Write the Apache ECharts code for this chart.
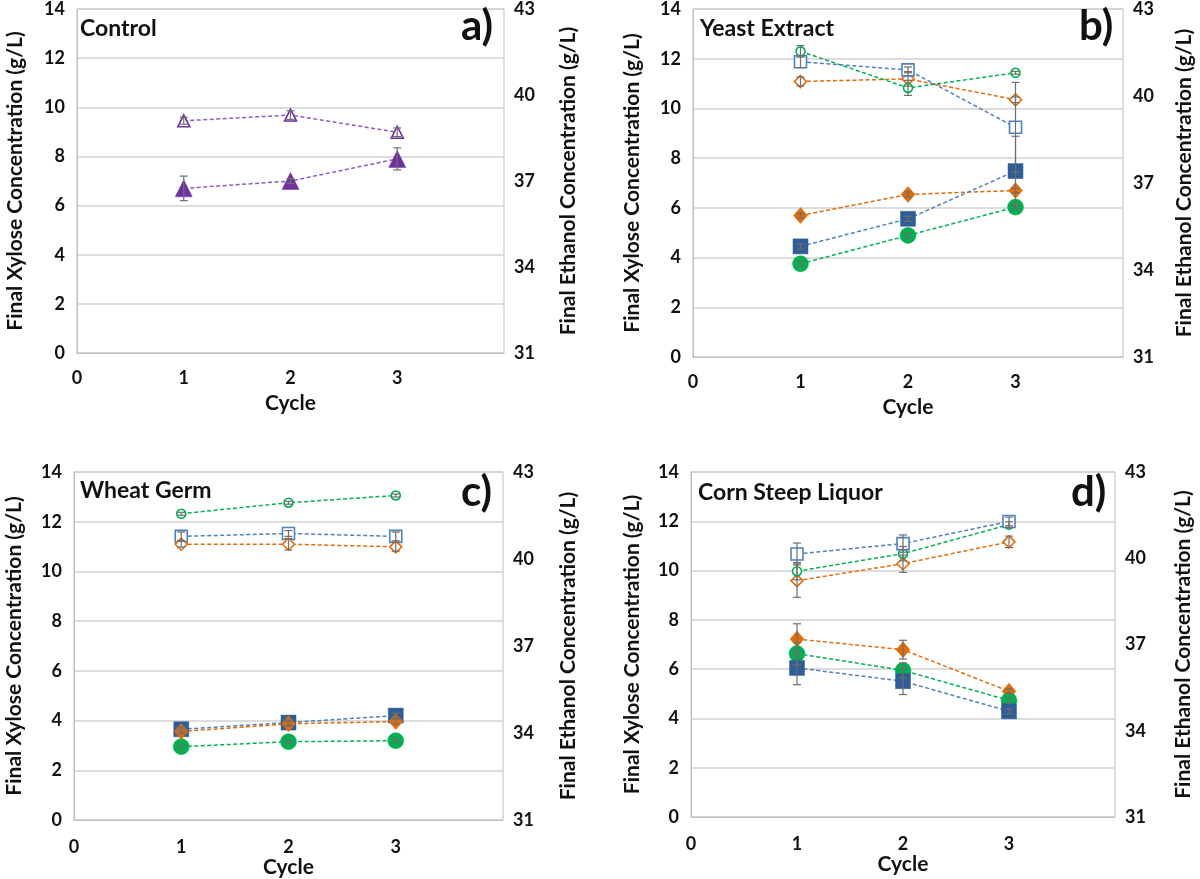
<!DOCTYPE html>
<html><head><meta charset="utf-8">
<script src="https://cdn.jsdelivr.net/npm/echarts@6/dist/echarts.min.js"></script>
<style>html,body{margin:0;padding:0;background:#fff}#c{width:1200px;height:879px}</style>
</head><body><div id="c"></div>
<script>
// ---------- DATA ----------
const cycles = [1, 2, 3];
const xTickLabels = ['0', '1', '2', '3'];
const panelTitles = ['Control', 'Yeast Extract', 'Wheat Germ', 'Corn Steep Liquor'];
const panelLetters = ['a)', 'b)', 'c)', 'd)'];
const leftAxisName = 'Final Xylose Concentration (g/L)';
const rightAxisName = 'Final Ethanol Concentration (g/L)';
const xAxisName = 'Cycle';

// a) Control (purple triangles)
const ctrlXylose = [6.7, 7.0, 7.9];
const ctrlXyloseErr = [0.5, 0.1, 0.45];
const ctrlEthanol = [39.1, 39.3, 38.7];
const ctrlEthanolErr = [0.12, 0.15, 0.15];

// b) Yeast Extract
const yeXyloseBlue = [4.45, 5.56, 7.48];
const yeXyloseBlueErr = [0.1, 0.1, 1.4];
const yeXyloseOrange = [5.69, 6.54, 6.70];
const yeXyloseOrangeErr = [0.1, 0.1, 0.1];
const yeXyloseGreen = [3.75, 4.89, 6.03];
const yeXyloseGreenErr = [0.1, 0.1, 0.1];
const yeEthanolBlue = [41.18, 40.90, 38.92];
const yeEthanolBlueErr = [0.2, 0.1, 1.55];
const yeEthanolOrange = [40.50, 40.59, 39.87];
const yeEthanolOrangeErr = [0.15, 0.25, 0.1];
const yeEthanolGreen = [41.54, 40.28, 40.80];
const yeEthanolGreenErr = [0.2, 0.26, 0.05];

// c) Wheat Germ
const wgXyloseBlue = [3.65, 3.92, 4.20];
const wgXyloseBlueErr = [0.1, 0.1, 0.1];
const wgXyloseOrange = [3.56, 3.87, 3.96];
const wgXyloseOrangeErr = [0.1, 0.1, 0.1];
const wgXyloseGreen = [2.95, 3.15, 3.19];
const wgXyloseGreenErr = [0.05, 0.05, 0.05];
const wgEthanolBlue = [40.78, 40.88, 40.78];
const wgEthanolBlueErr = [0.15, 0.1, 0.15];
const wgEthanolOrange = [40.51, 40.51, 40.42];
const wgEthanolOrangeErr = [0.1, 0.2, 0.15];
const wgEthanolGreen = [41.56, 41.94, 42.19];
const wgEthanolGreenErr = [0.05, 0.05, 0.05];

// d) Corn Steep Liquor
const cslXyloseBlue = [6.05, 5.51, 4.29];
const cslXyloseBlueErr = [0.68, 0.54, 0.1];
const cslXyloseOrange = [7.22, 6.79, 5.10];
const cslXyloseOrangeErr = [0.62, 0.38, 0.1];
const cslXyloseGreen = [6.63, 5.95, 4.73];
const cslXyloseGreenErr = [0.45, 0.3, 0.1];
const cslEthanolBlue = [40.15, 40.51, 41.28];
const cslEthanolBlueErr = [0.38, 0.3, 0.15];
const cslEthanolOrange = [39.22, 39.81, 40.57];
const cslEthanolOrangeErr = [0.58, 0.3, 0.2];
const cslEthanolGreen = [39.55, 40.16, 41.17];
const cslEthanolGreenErr = [0.3, 0.25, 0.1];

// ---------- STYLE ----------
const FONT = 'Lato, "Open Sans", sans-serif';
const C = {
  purple: '#7030A0', purpleLine: '#8E5CC0',
  blue: '#2F5D97', blueLight: '#4F81BD',
  orange: '#E36C0A', green: '#00B050'
};
const grids = [
  {left: 77, top: 9, width: 427, height: 344},
  {left: 693, top: 8, width: 430, height: 349},
  {left: 74, top: 472, width: 429, height: 348},
  {left: 691, top: 472, width: 424, height: 345}
];
const leftNameGap = [51, 50, 49, 48];
const rightNameGap = [54, 51, 55, 58];
const xLabelMargin = [16, 16, 18, 18];
const xNameGap = [40, 40, 34, 34];

const pairs = d => cycles.map((c, i) => [c, d[i]]);
const errPairs = (d, e) => cycles.map((c, i) => [c, d[i], e[i]]);

const option = {
  animation: false,
  textStyle: {fontFamily: FONT},
  grid: grids.map(g => Object.assign({show: true, borderColor: '#BFBFBF', borderWidth: 1, containLabel: false}, g)),
  xAxis: grids.map((g, i) => ({
    type: 'value', gridIndex: i, min: 0, max: 4, interval: 1,
    name: xAxisName, nameLocation: 'middle', nameGap: xNameGap[i],
    nameTextStyle: {fontSize: 21, fontWeight: 'bold', color: '#111', fontFamily: FONT},
    axisLine: {show: true, lineStyle: {color: '#BFBFBF', width: 1}},
    axisTick: {show: false},
    splitLine: {show: false},
    axisLabel: {fontSize: 18, fontWeight: 'bold', color: '#111', margin: xLabelMargin[i], fontFamily: FONT,
      formatter: v => (v < xTickLabels.length ? xTickLabels[v] : '')}
  })),
  yAxis: [].concat(...grids.map((g, i) => [
    {
      type: 'value', gridIndex: i, min: 0, max: 14, interval: 2, position: 'left',
      name: leftAxisName, nameLocation: 'middle', nameGap: leftNameGap[i],
      nameTextStyle: {fontSize: 21, fontWeight: 'bold', color: '#111', fontFamily: FONT},
      axisLine: {show: true, lineStyle: {color: '#BFBFBF'}}, axisTick: {show: false},
      splitLine: {show: true, lineStyle: {color: '#D0D0D0', width: 1.5}},
      axisLabel: {fontSize: 18, fontWeight: 'bold', color: '#111', margin: 12, fontFamily: FONT}
    },
    {
      type: 'value', gridIndex: i, min: 31, max: 43, interval: 3, position: 'right',
      name: rightAxisName, nameLocation: 'middle', nameGap: rightNameGap[i], nameRotate: 90,
      nameTextStyle: {fontSize: 21, fontWeight: 'bold', color: '#111', fontFamily: FONT},
      axisLine: {show: false}, axisTick: {show: false}, splitLine: {show: false},
      axisLabel: {fontSize: 18, fontWeight: 'bold', color: '#111', margin: 10, fontFamily: FONT}
    }
  ])),
  series: [],
  graphic: []
};

function lineSeries(panel, axisSide, data, color, lineColor, symbol, size, hollow) {
  return {
    type: 'line', xAxisIndex: panel, yAxisIndex: panel * 2 + axisSide,
    data: pairs(data), symbol: symbol, symbolSize: size, z: 3,
    lineStyle: {color: lineColor, width: 1.5, type: [4, 2.5]},
    itemStyle: hollow ? {color: '#fff', borderColor: color, borderWidth: 1.6}
                      : {color: color, borderColor: color, borderWidth: 0.5},
    emphasis: {disabled: true}
  };
}
function errSeries(panel, axisSide, data, err) {
  return {
    type: 'custom', xAxisIndex: panel, yAxisIndex: panel * 2 + axisSide, z: 5,
    data: errPairs(data, err),
    renderItem: function (params, api) {
      const x = api.value(0), y = api.value(1), e = api.value(2);
      const top = api.coord([x, y + e]);
      const bot = api.coord([x, y - e]);
      const st = {stroke: '#6E6E6E', lineWidth: 1.2};
      return {type: 'group', children: [
        {type: 'line', shape: {x1: top[0], y1: top[1], x2: bot[0], y2: bot[1]}, style: st},
        {type: 'line', shape: {x1: top[0] - 4, y1: top[1], x2: top[0] + 4, y2: top[1]}, style: st},
        {type: 'line', shape: {x1: bot[0] - 4, y1: bot[1], x2: bot[0] + 4, y2: bot[1]}, style: st}
      ]};
    }
  };
}
function addSet(panel, side, data, err, color, lineColor, symbol, size, hollow) {
  option.series.push(lineSeries(panel, side, data, color, lineColor, symbol, size, hollow));
  option.series.push(errSeries(panel, side, data, err));
}

// a)
addSet(0, 1, ctrlEthanol, ctrlEthanolErr, C.purple, C.purpleLine, 'triangle', 12, true);
addSet(0, 0, ctrlXylose, ctrlXyloseErr, C.purple, C.purpleLine, 'triangle', 17, false);
// b)
addSet(1, 1, yeEthanolOrange, yeEthanolOrangeErr, C.orange, C.orange, 'diamond', 12, true);
addSet(1, 1, yeEthanolGreen, yeEthanolGreenErr, C.green, C.green, 'circle', 9, true);
addSet(1, 1, yeEthanolBlue, yeEthanolBlueErr, C.blueLight, C.blueLight, 'rect', 12, true);
addSet(1, 0, yeXyloseOrange, yeXyloseOrangeErr, C.orange, C.orange, 'diamond', [14, 16], false);
addSet(1, 0, yeXyloseGreen, yeXyloseGreenErr, C.green, C.green, 'circle', 16, false);
addSet(1, 0, yeXyloseBlue, yeXyloseBlueErr, C.blue, C.blueLight, 'rect', 15, false);
// c)
addSet(2, 1, wgEthanolGreen, wgEthanolGreenErr, C.green, C.green, 'circle', 9, true);
addSet(2, 1, wgEthanolBlue, wgEthanolBlueErr, C.blueLight, C.blueLight, 'rect', 12, true);
addSet(2, 1, wgEthanolOrange, wgEthanolOrangeErr, C.orange, C.orange, 'diamond', 12, true);
addSet(2, 0, wgXyloseGreen, wgXyloseGreenErr, C.green, C.green, 'circle', 16, false);
addSet(2, 0, wgXyloseBlue, wgXyloseBlueErr, C.blue, C.blueLight, 'rect', 15, false);
addSet(2, 0, wgXyloseOrange, wgXyloseOrangeErr, C.orange, C.orange, 'diamond', [14, 16], false);
// d)
addSet(3, 1, cslEthanolOrange, cslEthanolOrangeErr, C.orange, C.orange, 'diamond', 12, true);
addSet(3, 1, cslEthanolGreen, cslEthanolGreenErr, C.green, C.green, 'circle', 9, true);
addSet(3, 1, cslEthanolBlue, cslEthanolBlueErr, C.blueLight, C.blueLight, 'rect', 12, true);
addSet(3, 0, cslXyloseOrange, cslXyloseOrangeErr, C.orange, C.orange, 'diamond', [14, 16], false);
addSet(3, 0, cslXyloseGreen, cslXyloseGreenErr, C.green, C.green, 'circle', 16, false);
addSet(3, 0, cslXyloseBlue, cslXyloseBlueErr, C.blue, C.blueLight, 'rect', 15, false);

// titles and letters
const titlePos = [[80, 17], [700, 17], [80, 479], [698, 481]];
const letterPos = [[461, 5], [1079, 5], [461, 471], [1071, 471]];
panelTitles.forEach((t, i) => {
  option.graphic.push({type: 'text', left: titlePos[i][0], top: titlePos[i][1], z: 10,
    style: {text: t, font: 'bold 23px ' + FONT, fill: '#111'}});
  option.graphic.push({type: 'text', left: letterPos[i][0], top: letterPos[i][1], z: 10,
    style: {text: panelLetters[i], font: 'bold 42px ' + FONT, fill: '#111'}});
});

const chart = echarts.init(document.getElementById('c'), null, {renderer: 'canvas'});
chart.setOption(option);
</script>
</body></html>
